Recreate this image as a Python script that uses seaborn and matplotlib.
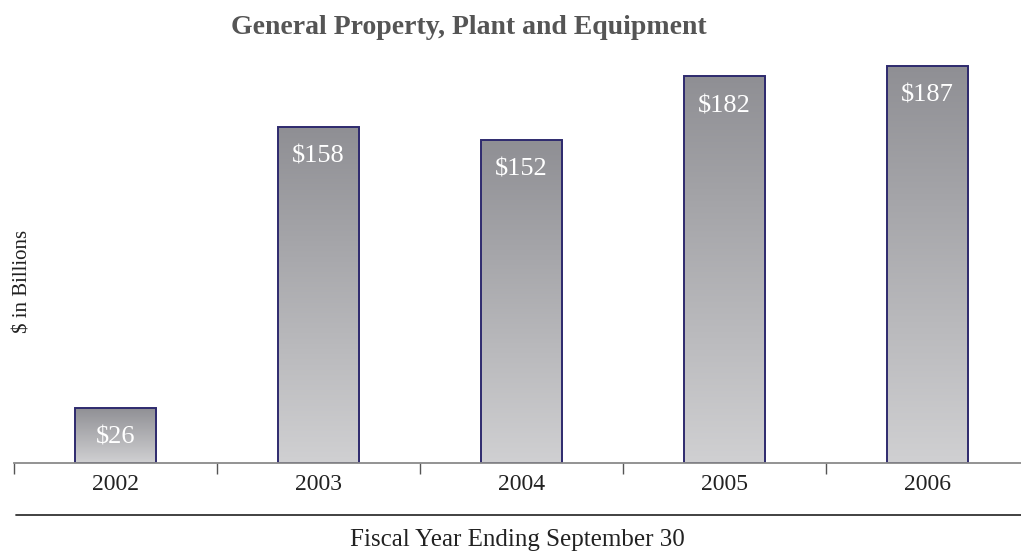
import numpy as np
import matplotlib.pyplot as plt
import seaborn as sns
from matplotlib.lines import Line2D
from matplotlib.colors import LinearSegmentedColormap

# --- chart data ---
years = ["2002", "2003", "2004", "2005", "2006"]
values = [26, 158, 152, 182, 187]
bar_labels = ["$26", "$158", "$152", "$182", "$187"]

sns.set_theme(style="white")
plt.rcParams['font.family'] = ['Liberation Serif', 'DejaVu Serif']

fig = plt.figure(figsize=(10.21, 5.56), dpi=100)
W, H = 1021, 556
ax = fig.add_axes([14 / W, (H - 463) / H, 1015 / W, 425 / H])

sns.barplot(x=years, y=values, width=0.4, color="#a0a0a4", edgecolor="#2e2a6e",
            linewidth=1.4, ax=ax)

# Vertical gradient fill for each bar (dark top -> light bottom)
grad_cmap = LinearSegmentedColormap.from_list("bar_grad", ["#d0d0d2", "#8f8f94"])
gradient = np.linspace(0, 1, 256).reshape(-1, 1)
for patch in ax.patches:
    x0, y0 = patch.get_x(), patch.get_y()
    w, h = patch.get_width(), patch.get_height()
    img = ax.imshow(gradient, cmap=grad_cmap, aspect="auto", origin="lower",
                    extent=[x0, x0 + w, y0, y0 + h], zorder=patch.get_zorder() - 0.1)
    img.set_clip_path(patch)
    patch.set_facecolor("none")
    patch.set_zorder(patch.get_zorder() + 0.2)

ax.set_xlim(-0.5, 4.5)
ax.set_ylim(0, 200)

# White value labels inside the top of each bar
for i, (v, lab) in enumerate(zip(values, bar_labels)):
    ax.text(i, v - 14, lab, ha="center", va="center", color="white", fontsize=19, zorder=5)

for side in ["left", "top", "right"]:
    ax.spines[side].set_visible(False)
ax.spines["bottom"].set_color("#8a8a8a")
ax.spines["bottom"].set_linewidth(1.3)
ax.set_yticks([])
ax.set_xlabel("")
ax.set_ylabel("")
ax.tick_params(axis="x", which="major", bottom=False, length=0, labelsize=17,
               labelcolor="#222222", pad=8)
ax.set_xticks(np.arange(-0.5, 5.0, 1.0), minor=True)
ax.tick_params(axis="x", which="minor", bottom=True, length=8, width=1.0,
               color="#555555", direction="out")

# Title, axis labels and the separator line
fig.text(469 / W, 1 - 27 / H, "General Property, Plant and Equipment", ha="center", va="center",
         fontsize=20, fontweight="bold", color="#555555")
fig.text(23 / W, 1 - 281 / H, "$ in Billions", rotation=90, ha="center", va="center",
         fontsize=15, color="#222222")
fig.text(517 / W, 1 - 540 / H, "Fiscal Year Ending September 30", ha="center", va="center",
         fontsize=18, color="#222222")
fig.add_artist(Line2D([16 / W, 1.0], [1 - 515 / H, 1 - 515 / H], color="#333333", linewidth=1.3))

fig.savefig("out.png", dpi=100)
